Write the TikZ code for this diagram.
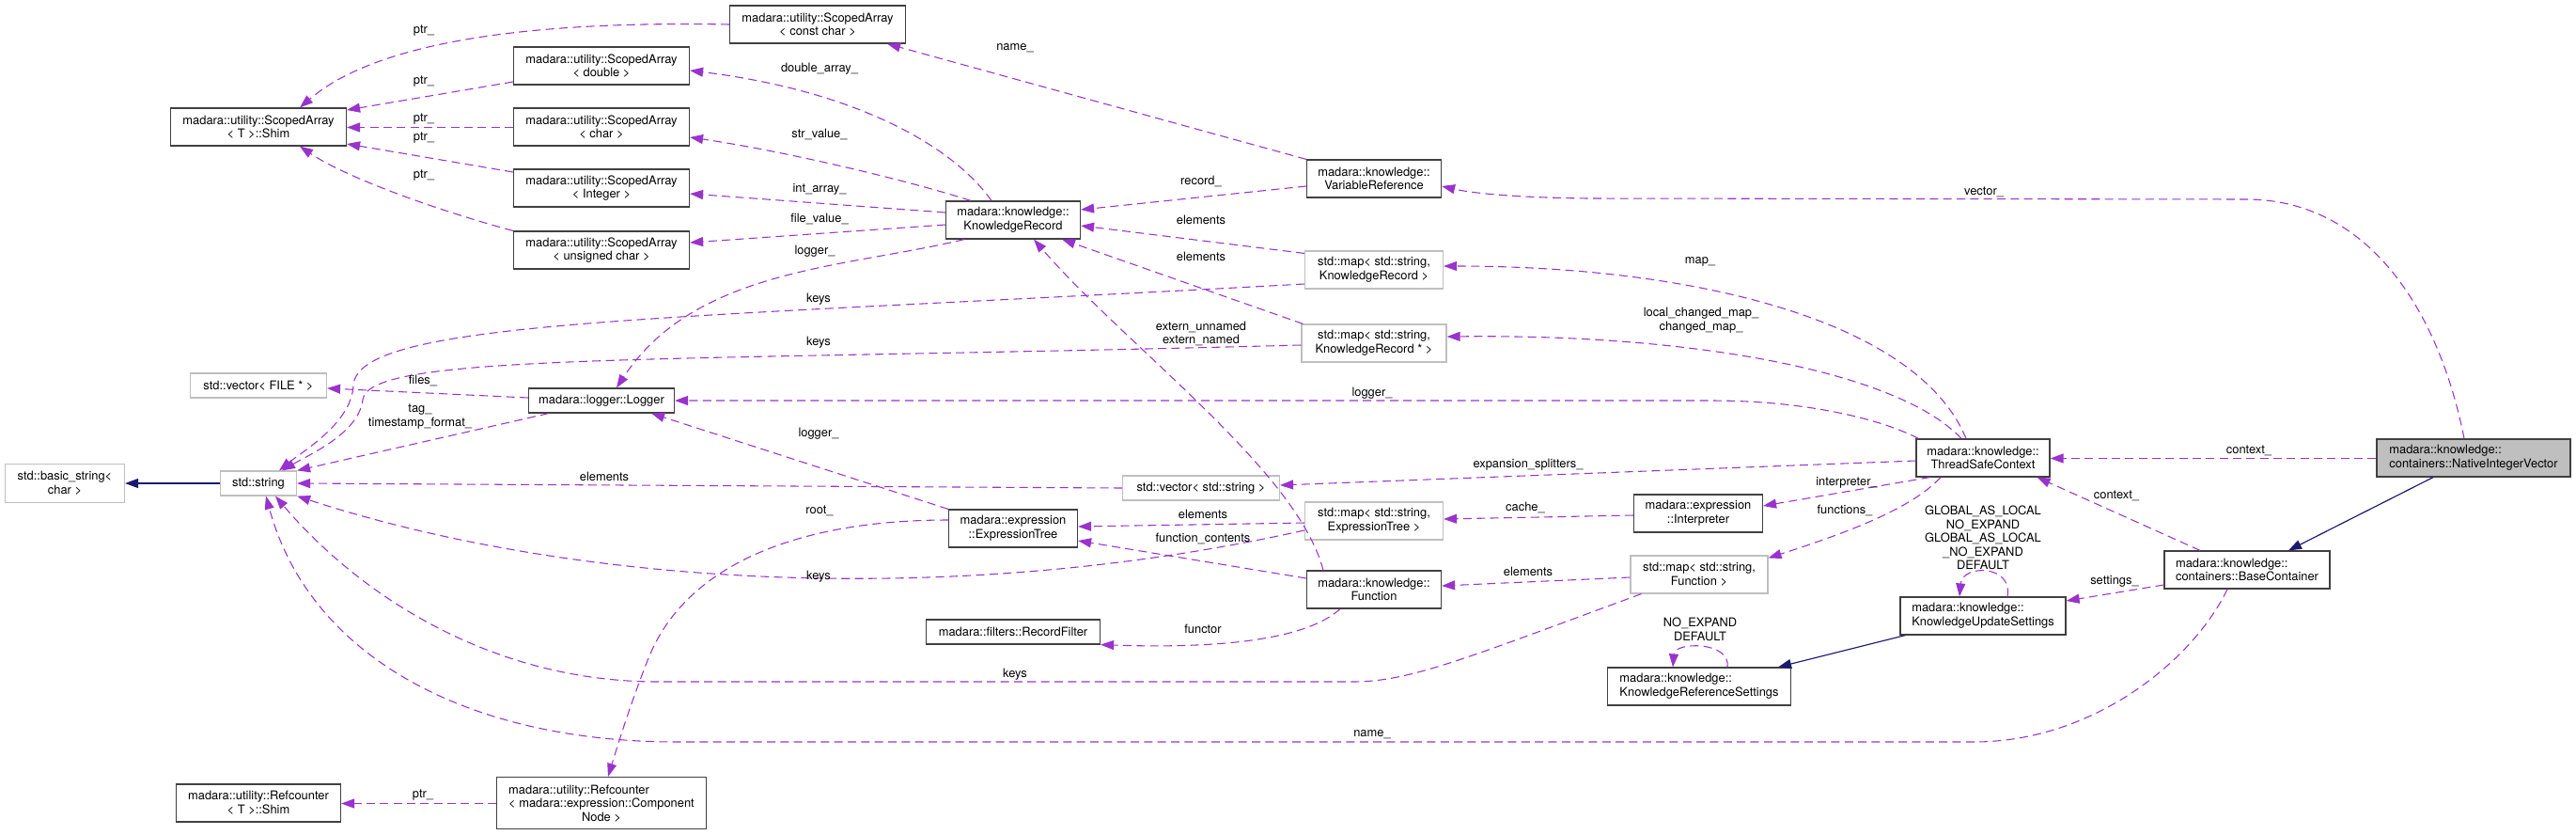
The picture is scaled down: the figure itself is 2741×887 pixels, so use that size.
\documentclass[tikz,border=0pt]{standalone}
\usepackage{fontspec}
\setmainfont{TeX Gyre Heros}
\usetikzlibrary{arrows.meta, calc}
\definecolor{edgepurple}{HTML}{9A32CD}
\definecolor{inhnavy}{HTML}{191970}
\definecolor{extgray}{HTML}{BFBFBF}
\tikzset{
    cls/.style={draw=black!75, fill=white, line width=0.035cm, inner sep=0pt, minimum height=1.2cm, align=center, font=\fontsize{11}{12.5}\selectfont},
    ext/.style={cls, draw=extgray},
    cur/.style={cls, fill=extgray},
    usage/.style={draw=edgepurple, line width=0.032cm, dash pattern=on 0.27cm off 0.16cm, -{Triangle[length=0.42cm,width=0.3cm]}},
    inherit/.style={draw=inhnavy, line width=0.035cm, -{Triangle[length=0.42cm,width=0.3cm]}},
    lbl/.style={inner sep=0pt, align=center, font=\fontsize{11}{12.5}\selectfont},
}
\begin{document}
\begin{tikzpicture}[x=0.03cm, y=-0.03cm]
            \useasboundingbox (0,0) rectangle (2741,887);
            % classes
            \node[cls, minimum width=5.61cm] (shim) at (275,135) {madara::utility::ScopedArray\\< T >::Shim};
            \node[cls, minimum width=5.61cm] (sacst) at (870,26) {madara::utility::ScopedArray\\< const char >};
            \node[cls, minimum width=5.61cm] (sadbl) at (640,70) {madara::utility::ScopedArray\\< double >};
            \node[cls, minimum width=5.61cm] (sachr) at (640,135) {madara::utility::ScopedArray\\< char >};
            \node[cls, minimum width=5.61cm] (saint) at (640,200) {madara::utility::ScopedArray\\< Integer >};
            \node[cls, minimum width=5.61cm] (sauch) at (640,266) {madara::utility::ScopedArray\\< unsigned char >};
            \node[cls, minimum width=4.29cm] (kr) at (1078,234) {madara::knowledge::\\KnowledgeRecord};
            \node[cls, minimum width=4.29cm] (vr) at (1462,190) {madara::knowledge::\\VariableReference};
            \node[ext, minimum width=4.41cm] (mapkr) at (1462,287) {std::map< std::string,\\ KnowledgeRecord >};
            \node[ext, minimum width=4.62cm] (mapkrp) at (1462,365) {std::map< std::string,\\ KnowledgeRecord * >};
            \node[ext, minimum width=4.35cm, minimum height=0.78cm] (vecfile) at (275,410) {std::vector< FILE * >};
            \node[cls, minimum width=4.65cm, minimum height=0.78cm] (logger) at (640,426) {madara::logger::Logger};
            \node[ext, minimum width=3.81cm, minimum height=1.23cm] (bstr) at (69,514) {std::basic\_string<\\ char >};
            \node[ext, minimum width=2.43cm, minimum height=0.78cm] (str) at (275,514) {std::string};
            \node[ext, minimum width=5.01cm, minimum height=0.78cm] (vecstr) at (1278,519) {std::vector< std::string >};
            \node[cls, minimum width=4.11cm] (et) at (1078,562) {madara::expression\\::ExpressionTree};
            \node[cls, minimum width=5.55cm, minimum height=0.78cm] (rflt) at (1078,672) {madara::filters::RecordFilter};
            \node[ext, minimum width=4.41cm] (mapet) at (1462,554) {std::map< std::string,\\ ExpressionTree >};
            \node[cls, minimum width=4.29cm] (func) at (1462,627) {madara::knowledge::\\Function};
            \node[cls, minimum width=4.11cm] (interp) at (1807,546) {madara::expression\\::Interpreter};
            \node[ext, minimum width=4.38cm] (mapfn) at (1808,611) {std::map< std::string,\\ Function >};
            \node[cls, minimum width=5.85cm, align=left] (krs) at (1808,730) {madara::knowledge::\\KnowledgeReferenceSettings};
            \node[cls, minimum width=4.26cm] (tsc) at (2110,487) {madara::knowledge::\\ThreadSafeContext};
            \node[cls, minimum width=5.28cm, align=left] (kus) at (2110,655) {madara::knowledge::\\KnowledgeUpdateSettings};
            \node[cur, minimum width=6.18cm, align=left] (niv) at (2632,487) {madara::knowledge::\\containers::NativeIntegerVector};
            \node[cls, minimum width=5.28cm, align=left] (bc) at (2391,606) {madara::knowledge::\\containers::BaseContainer};
            \node[cls, minimum width=5.25cm] (rcshim) at (275,854) {madara::utility::Refcounter\\< T >::Shim};
            \node[cls, minimum width=6.69cm, minimum height=1.65cm] (rccn) at (640,854) {\begin{tabular}[b]{@{}l@{}}madara::utility::Refcounter\\< madara::expression::Component\end{tabular}\\Node >};
            % inheritance
            \draw[inherit] (str.west) -- (bstr.east);
            \draw[inherit] ($(niv.south)+(-43,0)$) -- ($(bc.north)+(44,0)$);
            \draw[inherit] ($(kus.south west)+(6,0)$) -- ($(krs.north east)+(-14,0)$);
            % scoped arrays
            \draw[usage] (sacst.west) .. controls (560,22) and (400,45) .. ($(shim.north)+(44,0)$) node[lbl] (tptra) at (451,33) {ptr\_};
            \draw[usage] ($(sadbl.west)+(0,17)$) -- ($(shim.east)+(0,-18)$) node[lbl] (tptrb) at (451,87) {ptr\_};
            \draw[usage] ($(sachr.west)+(0,0.5)$) -- ($(shim.east)+(0,0.5)$) node[lbl] (tptrc) at (451,127) {ptr\_};
            \draw[usage] ($(saint.west)+(0,-17)$) -- ($(shim.east)+(0,18)$) node[lbl] (tptrd) at (451,147) {ptr\_};
            \draw[usage] (sauch.north west) .. controls (470,225) and (370,190) .. ($(shim.south)+(44,0)$) node[lbl] (tptre) at (451,187) {ptr\_};
            \draw[usage] (vr.north west) -- ($(sacst.south east)+(-20,0)$) node[lbl] (tnamea) at (1080,51) {name\_};
            \draw[usage] ($(kr.north)+(-23,0)$) .. controls (1010,150) and (900,95) .. ($(sadbl.east)+(0,5)$) node[lbl] (tdbl) at (872,73) {double\_array\_};
            \draw[usage] ($(kr.north)+(-45,0)$) .. controls (960,190) and (830,160) .. ($(sachr.east)+(0,11)$) node[lbl] (tstrv) at (872,143) {str\_value\_};
            \draw[usage] ($(kr.west)+(0,-8)$) -- ($(saint.east)+(0,6)$) node[lbl] (tint) at (872,201) {int\_array\_};
            \draw[usage] ($(kr.west)+(0,5)$) -- ($(sauch.east)+(0,-8)$) node[lbl] (tfile) at (872,233) {file\_value\_};
            % knowledge record
            \draw[usage] ($(kr.south)+(-52,0)$) .. controls (900,285) and (740,285) .. ($(logger.north)+(16,0)$) node[lbl] (tloga) at (867,267) {logger\_};
            \draw[usage] ($(vr.west)+(0,8)$) -- ($(kr.east)+(0,-11)$) node[lbl] (trec) at (1278,193) {record\_};
            \draw[usage] ($(mapkr.north west)+(0,3)$) -- ($(kr.east)+(0,6)$) node[lbl] (telema) at (1278,234) {elements};
            \draw[usage] ($(mapkrp.north west)+(2,0)$) -- ($(kr.south east)+(-20,0)$) node[lbl] (telemb) at (1278,273) {elements};
            \draw[usage] ($(func.north)+(-54,0)$) .. controls (1380,500) and (1200,370) .. ($(kr.south)+(22,0)$) node[lbl] (textern) at (1278,355) {extern\_unnamed\\extern\_named};
            % keys into std::string
            \draw[usage] ($(mapkr.west)+(0,15)$) .. controls (700,340) and (380,340) .. (376,410) .. controls (374,450) and (322,480) .. ($(str.north)+(22,0)$) node[lbl] (tkeysa) at (871,318) {keys};
            \draw[usage] ($(mapkrp.west)+(0,2)$) .. controls (700,385) and (392,375) .. (386,425) .. controls (382,460) and (332,482) .. ($(str.north)+(25,0)$) node[lbl] (tkeysb) at (871,364) {keys};
            \draw[usage] ($(mapet.west)+(0,10)$) .. controls (1000,650) and (600,620) .. (str.south east) node[lbl] (tkeysc) at (871,613) {keys};
            \draw[usage] ($(mapfn.south west)+(12,0)$) .. controls (1560,700) and (1500,725) .. (1440,725) -- (700,725) .. controls (520,725) and (380,630) .. ($(str.south)+(18,0)$) node[lbl] (tkeysd) at (1080,717) {keys};
            \draw[usage] ($(bc.south)+(-21,0)$) .. controls (2335,700) and (2230,789) .. (2100,789) -- (720,789) .. controls (500,789) and (330,700) .. ($(str.south)+(8,0)$) node[lbl] (tnameb) at (1460,781) {name\_};
            \draw[usage] (vecstr.west) -- (str.east) node[lbl] (telemc) at (643,507) {elements};
            \draw[usage] ($(logger.south west)+(22,0)$) -- (str.north east) node[lbl] (ttag) at (447,443) {tag\_\\timestamp\_format\_};
            \draw[usage] ($(logger.west)+(0,-3)$) -- ($(vecfile.east)+(0,3)$) node[lbl] (tfiles) at (450,405) {files\_};
            % expressions and functions
            \draw[usage] (et.north west) -- ($(logger.south east)+(-25,0)$) node[lbl] (tlogb) at (871,461) {logger\_};
            \draw[usage] ($(et.west)+(0,-9)$) .. controls (850,553) and (730,600) .. (690,700) .. controls (670,750) and (655,800) .. ($(rccn.north)+(7,0)$) node[lbl] (troot) at (872,543) {root\_};
            \draw[usage] ($(rccn.west)+(0,0.5)$) -- ($(rcshim.east)+(0,0.5)$) node[lbl] (tptrf) at (450,846) {ptr\_};
            \draw[usage] ($(mapet.west)+(0,2)$) -- ($(et.east)+(0,-2)$) node[lbl] (telemd) at (1280,547) {elements};
            \draw[usage] ($(func.west)+(0,-12)$) -- ($(et.east)+(0,13)$) node[lbl] (tcont) at (1280,573) {function\_contents};
            \draw[usage] ($(func.south)+(-36,0)$) .. controls (1390,680) and (1300,690) .. (rflt.south east) node[lbl] (tfunctor) at (1280,669) {functor};
            \draw[usage] ($(interp.west)+(0,2)$) -- ($(mapet.east)+(0,-2)$) node[lbl] (tcache) at (1623,540) {cache\_};
            \draw[usage] ($(mapfn.west)+(0,3)$) -- ($(func.east)+(0,-4)$) node[lbl] (teleme) at (1626,608) {elements};
            % thread safe context
            \draw[usage] ($(tsc.north)+(-18,0)$) .. controls (2040,340) and (1800,283) .. ($(mapkr.east)+(0,-4)$) node[lbl] (tmap) at (1809,278) {map\_};
            \draw[usage] ($(tsc.north)+(-23,0)$) .. controls (2020,395) and (1800,355) .. ($(mapkrp.east)+(0,-7)$) node[lbl] (tchg) at (1810,341) {local\_changed\_map\_\\changed\_map\_};
            \draw[usage] ($(tsc.north west)+(3,0)$) .. controls (2000,445) and (1920,426) .. (1820,426) -- (logger.east) node[lbl] (tlogc) at (1460,418) {logger\_};
            \draw[usage] ($(tsc.west)+(0,3)$) -- ($(vecstr.east)+(0,-3)$) node[lbl] (tsplit) at (1626,494) {expansion\_splitters\_};
            \draw[usage] ($(tsc.south west)+(15,0)$) -- ($(interp.east)+(0,-8)$) node[lbl] (tinterp) at (1965,513) {interpreter\_};
            \draw[usage] ($(tsc.south)+(-45,0)$) .. controls (2035,540) and (1970,565) .. ($(mapfn.north east)+(0,3)$) node[lbl] (tfuncs) at (1963,543) {functions\_};
            % containers
            \draw[usage] ($(niv.west)+(0,0.5)$) -- ($(tsc.east)+(0,0.5)$) node[lbl] (tctxa) at (2393,479) {context\_};
            \draw[usage] ($(bc.north)+(-50,0)$) -- ($(tsc.south east)+(-14,0)$) node[lbl] (tctxb) at (2252,527) {context\_};
            \draw[usage] ($(bc.west)+(0,16)$) -- ($(kus.east)+(0,-16)$) node[lbl] (tsett) at (2250,618) {settings\_};
            \draw[usage] ($(niv.north)+(-10,0)$) .. controls (2595,330) and (2520,212) .. (2390,212) -- (1690,211) .. controls (1600,210) and (1560,204) .. ($(vr.east)+(0,8)$) node[lbl] (tvec) at (2111,204) {vector\_};
            % settings loops
            \draw[usage] ($(kus.north)+(26,0)$) .. controls (2142,600) and (2088,600) .. ($(kus.north)+(-25,0)$) node[lbl] (tkusflags) at (2110,572) {GLOBAL\_AS\_LOCAL\\NO\_EXPAND\\GLOBAL\_AS\_LOCAL\\\_NO\_EXPAND\\DEFAULT};
            \draw[usage] ($(krs.north)+(30,0)$) .. controls (1842,682) and (1782,682) .. ($(krs.north)+(-28,0)$) node[lbl] (tkrsflags) at (1809,669) {NO\_EXPAND\\DEFAULT};
        \end{tikzpicture}
\end{document}
